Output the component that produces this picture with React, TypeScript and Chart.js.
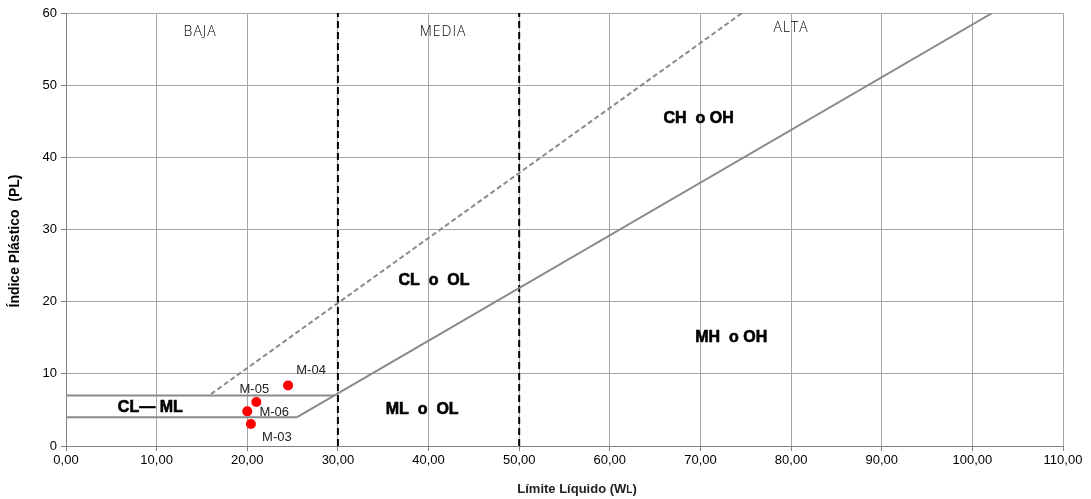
import React, { useEffect, useRef } from "react";
import { Chart, registerables } from "chart.js";

Chart.register(...registerables);

// Sample points (Límite Líquido, Índice Plástico)
const sampleNames = ["M-03", "M-04", "M-05", "M-06"];
const sampleLL = [20.4, 24.5, 21.0, 20.0];
const samplePI = [3.05, 8.4, 6.1, 4.8];

// Chart lines
const aLineX = [25.5, 102.2];
const aLineY = [4, 60];
const uLineX = [16.0, 74.6];
const uLineY = [7.2, 60];
const hLine7X = [0, 29.6];
const hLine7Y = [7, 7];
const hLine4X = [0, 25.5];
const hLine4Y = [4, 4];
const vLine30X = [30, 30];
const vLine50X = [50, 50];
const vLineY = [0, 60];

// Axis ticks
const xTicks = [0, 10, 20, 30, 40, 50, 60, 70, 80, 90, 100, 110];
const yTicks = [0, 10, 20, 30, 40, 50, 60];

// Zone labels
const zoneNames = ["BAJA", "MEDIA", "ALTA"];
const zoneX = [14.8, 41.6, 80.0];
const zoneY = [57.4, 57.4, 57.9];
const soilNames = ["CH  o OH", "CL  o  OL", "MH  o OH", "ML  o  OL", "CL— ML"];
const soilX = [69.8, 40.6, 73.4, 39.3, 9.3];
const soilY = [45.4, 22.9, 15.0, 5.0, 5.3];

// label pixel offsets (style)
const labelDX = [26, 23, -2, 27];
const labelDY = [13, -15, -13, 1];

const annotPlugin = {
  id: "annot",
  afterDatasetsDraw(chart: any) {
    const ctx = chart.ctx;
    const xs = chart.scales.x;
    const ys = chart.scales.y;
    ctx.save();
    ctx.textAlign = "center";
    ctx.textBaseline = "middle";
    // zone labels
    ctx.fillStyle = "#000000";
    ctx.font = "300 14px 'Open Sans', 'DejaVu Sans', sans-serif";
    (ctx as any).letterSpacing = "1px";
    zoneNames.forEach((n, i) => {
      ctx.fillText(n, xs.getPixelForValue(zoneX[i]), ys.getPixelForValue(zoneY[i]));
    });
    (ctx as any).letterSpacing = "0px";
    // soil labels
    ctx.fillStyle = "#000000";
    ctx.strokeStyle = "#000000";
    ctx.lineWidth = 0.6;
    ctx.font = "bold 16px 'Liberation Sans', Arial, sans-serif";
    soilNames.forEach((n, i) => {
      const px = xs.getPixelForValue(soilX[i]);
      const py = ys.getPixelForValue(soilY[i]);
      ctx.fillText(n, px, py);
      ctx.strokeText(n, px, py);
    });
    // point labels
    ctx.fillStyle = "#222222";
    ctx.font = "13px 'Liberation Sans', Arial, sans-serif";
    sampleNames.forEach((n, i) => {
      ctx.fillText(
        n,
        xs.getPixelForValue(sampleLL[i]) + labelDX[i],
        ys.getPixelForValue(samplePI[i]) + labelDY[i]
      );
    });
    // x axis title
    const big = "bold 13px 'Liberation Sans', Arial, sans-serif";
    const small = "bold 10px 'Liberation Sans', Arial, sans-serif";
    const part1 = "Límite Líquido (W";
    const part2 = "L";
    const part3 = ")";
    ctx.textAlign = "left";
    ctx.font = big;
    const w1 = ctx.measureText(part1).width;
    const w3 = ctx.measureText(part3).width;
    ctx.font = small;
    const w2 = ctx.measureText(part2).width;
    const total = w1 + w2 + w3;
    const cx = 577;
    const x0 = cx - total / 2;
    const ty = 489;
    ctx.font = big;
    ctx.fillText(part1, x0, ty);
    ctx.font = small;
    ctx.fillText(part2, x0 + w1, ty + 1);
    ctx.font = big;
    ctx.fillText(part3, x0 + w1 + w2, ty);
    ctx.restore();

    ctx.save();
    ctx.translate(15, 241);
    ctx.rotate(-Math.PI / 2);
    ctx.textAlign = "center";
    ctx.textBaseline = "middle";
    ctx.fillStyle = "#000000";
    ctx.font = "bold 14px 'Liberation Sans', Arial, sans-serif";
    ctx.fillText("Índice Plástico  (PL)", 0, 0);
    ctx.restore();
  },
};

const toPts = (xs: number[], ys: number[]) => xs.map((x, i) => ({ x, y: ys[i] }));

export default function App() {
  const ref = useRef<HTMLCanvasElement>(null);
  useEffect(() => {
    document.body.style.margin = "0";
    const lineGray = "#8a8a8a";
    const mkLine = (data: any, color: string, width: number, dash: number[]) => ({
      type: "scatter" as const,
      data,
      showLine: true,
      borderColor: color,
      borderWidth: width,
      borderDash: dash,
      pointRadius: 0,
      fill: false,
    });
    const tickFont = { family: "'Liberation Sans', Arial, sans-serif", size: 13 };
    const chart = new Chart(ref.current!, {
      type: "scatter",
      data: {
        datasets: [
          mkLine(toPts(hLine7X, hLine7Y), lineGray, 2, []),
          mkLine(toPts(hLine4X, hLine4Y), lineGray, 2, []),
          mkLine(toPts(aLineX, aLineY), lineGray, 2, []),
          mkLine(toPts(uLineX, uLineY), lineGray, 2, [5, 3]),
          mkLine(toPts(vLine30X, vLineY), "#000000", 2, [7, 4]),
          mkLine(toPts(vLine50X, vLineY), "#000000", 2, [7, 4]),
          {
            type: "scatter" as const,
            data: toPts(sampleLL, samplePI),
            backgroundColor: "#ff0000",
            borderColor: "#ff0000",
            pointRadius: 5,
            pointBorderWidth: 0,
          },
        ],
      },
      options: {
        animation: false,
        responsive: false,
        layout: { padding: { left: 0, right: 28, top: 13, bottom: 0 } },
        plugins: { legend: { display: false }, tooltip: { enabled: false } },
        scales: {
          x: {
            type: "linear",
            min: 0,
            max: 110,
            afterBuildTicks: (s: any) => {
              s.ticks = xTicks.map((v) => ({ value: v }));
            },
            afterFit: (s: any) => {
              s.height = 53;
            },
            ticks: {
              color: "#000",
              font: tickFont,
              padding: 2,
              maxRotation: 0,
              callback: (v: any) => Number(v).toFixed(2).replace(".", ","),
            },
            grid: { color: "#a6a6a6", lineWidth: 1, tickLength: 5, tickColor: "#808080" },
            border: { color: "#808080", width: 1 },
          },
          y: {
            type: "linear",
            min: 0,
            max: 60,
            afterBuildTicks: (s: any) => {
              s.ticks = yTicks.map((v) => ({ value: v }));
            },
            afterFit: (s: any) => {
              s.width = 66;
            },
            ticks: {
              color: "#000",
              font: tickFont,
              padding: 4,
            },
            grid: { color: "#a6a6a6", lineWidth: 1, tickLength: 5, tickColor: "#808080" },
            border: { color: "#808080", width: 1 },
          },
        },
      },
      plugins: [annotPlugin],
    } as any);
    return () => chart.destroy();
  }, []);
  return (
    <div style={{ width: 1091, height: 499 }}>
      <canvas ref={ref} width={1091} height={499} style={{ display: "block" }} />
    </div>
  );
}
